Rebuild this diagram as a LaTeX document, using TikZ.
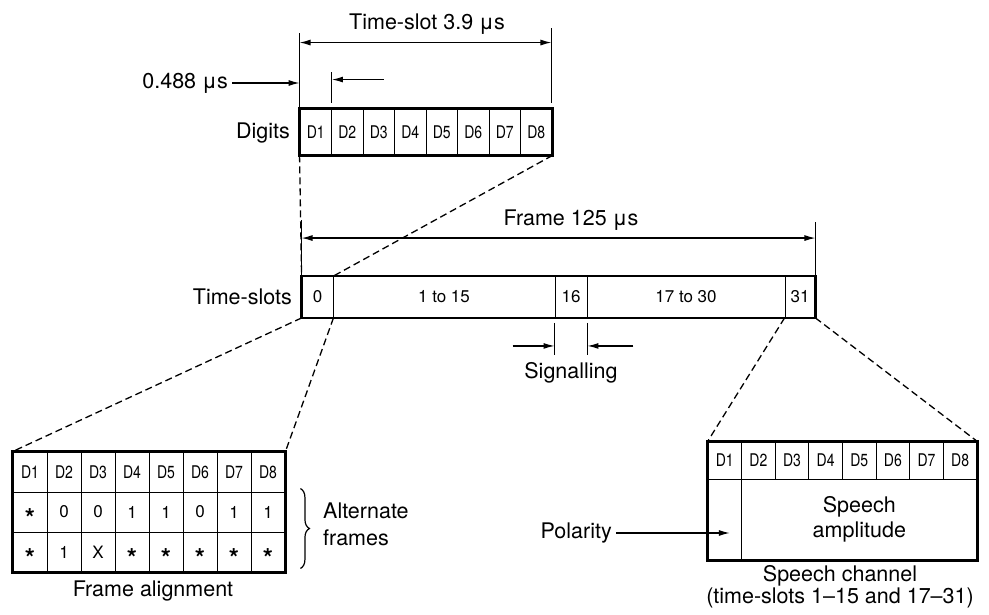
\documentclass[tikz,border=0pt]{standalone}
\usepackage{fontspec}
\setmainfont{TeX Gyre Heros}
\newfontfamily\cnd[FakeStretch=0.8]{TeX Gyre Heros}
\usetikzlibrary{arrows.meta,decorations.pathreplacing,calc}
\newcommand\astr{\raisebox{-15pt}[0pt][0pt]{\bfseries\fontsize{26}{26}\selectfont *}}
\begin{document}
\begin{tikzpicture}[x=1pt,y=-1pt,
 lab/.style={font=\fontsize{21.5}{24}\selectfont, inner sep=0pt},
 dlab/.style={font=\cnd\fontsize{17.5}{18}\selectfont},
 nlab/.style={font=\fontsize{17}{18}\selectfont},
 dcell/.style={draw, line width=0.9pt, inner sep=0pt},
 outer/.style={line width=2.6pt},
 arr/.style={line width=1.2pt, -{Latex[length=11pt,width=6pt]}},
 dimarr/.style={line width=1.2pt, {Latex[length=11pt,width=6pt]}-{Latex[length=11pt,width=6pt]}},
 extl/.style={line width=1pt},
 dline/.style={line width=1.3pt, dash pattern=on 7pt off 4pt}]
\useasboundingbox (0,0) rectangle (989,614);

% ---------- Digits box ----------
\foreach \i in {1,...,8}
  \node[dcell, dlab, minimum width=31.5pt, minimum height=46pt] (t\i) at ({300+31.5*(\i-0.5)},132) {D\i};
\draw[outer] (t1.north west) rectangle (t8.south east);
\node[lab, anchor=east] (digits) at (290,133) {Digits};

% time-slot dimension
\draw[extl] (t1.north west) -- ($(t1.north west)+(0,-76)$);
\draw[extl] ($(t8.north east)+(-1,-6)$) -- ($(t8.north east)+(-1,-81)$);
\draw[dimarr] ($(t1.north west)+(0,-66)$) -- ($(t8.north east)+(-1,-66)$);
\node[lab] (tslabel) at (427,24) {Time-slot 3.9 μs};

% 0.488 us
\draw[extl] ($(t1.north east)+(0,-6)$) -- ($(t1.north east)+(0,-37)$);
\node[lab, anchor=east] (w488) at (228,83) {0.488 μs};
\draw[arr] ([xshift=4pt]w488.east) -- (w488.east -| t1.north west);
\coordinate (a2) at ($(t1.north east)+(52,-29)$);
\draw[arr] (a2) -- (t1.north east |- a2);

% ---------- Time-slots box ----------
\node[dcell, nlab, minimum width=31pt, minimum height=41pt] (s0) at (317.5,297) {0};
\node[dcell, nlab, minimum width=222pt, minimum height=41pt] (s1) at (444,297) {1 to 15};
\node[dcell, nlab, minimum width=32pt, minimum height=41pt] (s16) at (571,297) {16};
\node[dcell, nlab, minimum width=198pt, minimum height=41pt] (s17) at (686,297) {17 to 30};
\node[dcell, nlab, minimum width=30pt, minimum height=41pt] (s31) at (800,297) {31};
\draw[outer] (s0.north west) rectangle (s31.south east);
\node[lab, anchor=east] (tslots) at (292,297) {Time-slots};

% frame dimension
\draw[extl] (s0.north west) -- ($(s0.north west)+(0,-56)$);
\draw[extl] (s31.north east) -- ($(s31.north east)+(0,-54)$);
\draw[dimarr] ($(s0.north west)+(0,-38)$) -- ($(s31.north east)+(0,-38)$);
\node[lab] (framelab) at (571,220) {Frame 125 μs};

% dashed projection digits -> slot 0
\draw[dline] (t1.south west) -- (s0.north west);
\draw[dline] (t8.south east) -- (s0.north east);

% signalling
\draw[extl] ($(s16.south west)+(0,5)$) -- ($(s16.south west)+(0,37)$);
\draw[extl] ($(s16.south east)+(0,5)$) -- ($(s16.south east)+(0,37)$);
\draw[arr] ($(s16.south west)+(-42,28)$) -- ($(s16.south west)+(0,28)$);
\draw[arr] ($(s16.south east)+(46,28)$) -- ($(s16.south east)+(0,28)$);
\node[lab] (sig) at (571,373) {Signalling};

% ---------- Frame alignment table ----------
\foreach \i in {1,...,8}
  \node[dcell, dlab, minimum width=34pt, minimum height=40pt] (fa1\i) at ({13+34*(\i-0.5)},472) {D\i};
\foreach \v [count=\i] in {\astr,0,0,1,1,0,1,1}
  \node[dcell, nlab, minimum width=34pt, minimum height=40pt] (fa2\i) at ({13+34*(\i-0.5)},512) {\v};
\foreach \v [count=\i] in {\astr,1,X,\astr,\astr,\astr,\astr,\astr}
  \node[dcell, nlab, minimum width=34pt, minimum height=40pt] (fa3\i) at ({13+34*(\i-0.5)},552) {\v};
\draw[outer] (fa11.north west) rectangle (fa38.south east);
\draw[line width=1.2pt, decorate, decoration={brace, amplitude=9pt}]
  ($(fa28.north east)+(15,-3)$) -- ($(fa38.south east)+(15,-4)$);
\node[lab, anchor=west, align=left, font=\fontsize{21.5}{27}\selectfont] (alt) at (323,524) {Alternate\\frames};
\node[lab] (falab) at (153,591) {Frame alignment};

\draw[dline] (s0.south west) -- (fa11.north west);
\draw[dline] (s0.south east) -- (fa18.north east);

% ---------- Speech channel ----------
\foreach \i in {1,...,8}
  \node[dcell, dlab, minimum width=33.625pt, minimum height=37pt] (h\i) at ({708+33.625*(\i-0.5)},460.5) {D\i};
\node[dcell, minimum width=33.625pt, minimum height=81pt] (pcol) at (724.8,519.5) {};
\node[dcell, minimum width=235.375pt, minimum height=81pt, align=center, font=\fontsize{21.5}{25}\selectfont] (amp) at (859.3,519.5) {Speech\\amplitude};
\draw[outer] (h1.north west) rectangle (amp.south east);
\node[lab, anchor=east] (pol) at (612,533) {Polarity};
\draw[arr] ([xshift=4pt]pol.east) -- ($(pcol.center)+(5,13.5)$);
\node[lab, align=center, font=\fontsize{21.5}{22}\selectfont] (spc) at (840,587) {Speech channel\\(time-slots 1–15 and 17–31)};

\draw[dline] (s31.south west) -- (h1.north west);
\draw[dline] (s31.south east) -- (h8.north east);
\end{tikzpicture}
\end{document}
